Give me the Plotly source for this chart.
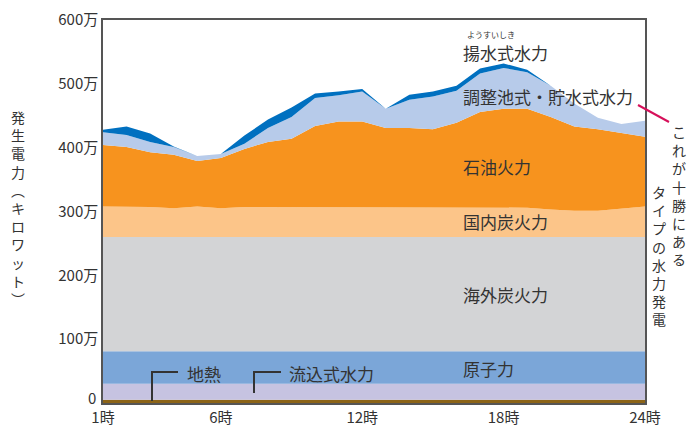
import plotly.graph_objects as go

hours = list(range(1, 25))
x_tick_vals = [1, 6, 12, 18, 24]
x_tick_text = ["1時", "6時", "12時", "18時", "24時"]
y_tick_vals = [0, 100, 200, 300, 400, 500, 600]
y_tick_text = ["", "100万", "200万", "300万", "400万", "500万", "600万"]
zero_label = "0"

# 発電量（万キロワット）— bottom to top
geothermal     = [5, 5, 5, 5, 5, 5, 5, 5, 5, 5, 5, 5, 5, 5, 5, 5, 5, 5, 5, 5, 5, 5, 5, 5]
run_of_river   = [25, 25, 25, 25, 25, 25, 25, 25, 25, 25, 25, 25, 25, 25, 25, 25, 25, 25, 25, 25, 25, 25, 25, 25]
nuclear        = [51, 51, 51, 51, 51, 51, 51, 51, 51, 51, 51, 51, 51, 51, 51, 51, 51, 51, 51, 51, 51, 51, 51, 51]
imported_coal  = [179, 179, 179, 179, 179, 179, 179, 179, 179, 179, 179, 179, 179, 179, 179, 179, 179, 179, 179, 179, 179, 179, 179, 179]
domestic_coal  = [48, 48, 47, 45, 48, 45, 47, 47, 47, 47, 47, 47, 47, 47, 47, 47, 47, 47, 46, 43, 41, 41, 44, 48]
oil            = [96, 93, 86, 84, 71, 79, 91, 102, 107, 127, 134, 134, 124, 124, 122, 132, 149, 154, 155, 145, 132, 128, 119, 109]
reservoir      = [20, 19, 16, 12, 8, 6, 8, 22, 34, 44, 41, 47, 30, 44, 51, 50, 60, 64, 57, 49, 36, 18, 14, 25]
pumped         = [4, 13, 13, 1, 0, 0, 13, 13, 15, 7, 6, 4, 0, 8, 8, 8, 8, 7, 4, 0, 0, 0, 0, 0]

series = [
    ("地熱", geothermal, "#8C6418"),
    ("流込式水力", run_of_river, "#C6C3E1"),
    ("原子力", nuclear, "#7BA6D8"),
    ("海外炭火力", imported_coal, "#D3D4D6"),
    ("国内炭火力", domestic_coal, "#FCC589"),
    ("石油火力", oil, "#F7931E"),
    ("調整池式・貯水式水力", reservoir, "#B7CBEA"),
    ("揚水式水力", pumped, "#0070C0"),
]

fig = go.Figure()
for name, vals, col in series:
    fig.add_trace(go.Scatter(
        x=hours, y=vals, name=name, mode="lines", stackgroup="one",
        line=dict(width=0, color=col), fillcolor=col, hoverinfo="skip",
    ))

W, H = 688, 427
L, R, T, B = 103, 43, 20, 24
PW, PH = W - L - R, H - T - B

def px(x):
    return (x - L) / PW

def py(y):
    return (H - B - y) / PH

JP = "Noto Sans CJK JP, Noto Sans, sans-serif"
NUM = "Liberation Sans Narrow, " + JP
TXT = "#333333"
annotations = []

def label(text, x, y, size=17, anchor="left", family=JP, valign="middle"):
    annotations.append(dict(
        text=text, x=px(x), y=py(y), xref="paper", yref="paper",
        xanchor=anchor, yanchor=valign, showarrow=False,
        font=dict(family=family, size=size, color=TXT),
    ))

label(zero_label, 98, 397, size=15, anchor="right", family=NUM)
label("ようすいしき", 491, 35, size=8, anchor="center")
label("揚水式水力", 461, 53)
label("調整池式・貯水式水力", 461, 96)
label("石油火力", 461, 166)
label("国内炭火力", 461, 221)
label("海外炭火力", 461, 295)
label("原子力", 461, 368)
label("地熱", 185, 373)
label("流込式水力", 287, 373)

def vertical(text, x, ytop, size):
    annotations.append(dict(
        text="<br>".join(text), x=px(x), y=py(ytop), xref="paper", yref="paper",
        xanchor="center", yanchor="top", align="center", showarrow=False,
        borderpad=0,
        font=dict(family=JP, size=size, color=TXT),
    ))

vertical("発生電力︵キロワット︶", 18, 106, 14)
vertical("これが十勝にある", 679, 121, 14)
vertical("タイプの水力発電", 659, 181, 14)

shapes = []

def seg(x0, y0, x1, y1, color="#333333", width=2):
    shapes.append(dict(type="line", xref="paper", yref="paper",
                       x0=px(x0), y0=py(y0), x1=px(x1), y1=py(y1),
                       line=dict(color=color, width=width)))

seg(152, 401, 152, 372)
seg(151, 372, 178, 372)
seg(254, 393, 254, 372)
seg(253, 372, 281, 372)
seg(638, 105, 669, 122, color="#D6105A", width=2)

fig.update_layout(
    width=W, height=H,
    margin=dict(l=L, r=R, t=T, b=B, pad=0),
    paper_bgcolor="white", plot_bgcolor="white",
    showlegend=False,
    annotations=annotations,
    shapes=shapes,
    font=dict(family=JP, color=TXT),
)
fig.update_xaxes(
    range=[1, 24], tickvals=x_tick_vals, ticktext=x_tick_text,
    showgrid=False, zeroline=False, showline=True, mirror=True,
    linecolor="#555555", linewidth=1.5, ticks="", ticklen=0,
    automargin=False,
    tickfont=dict(family=NUM, size=15, color=TXT),
)
fig.update_yaxes(
    range=[0, 600], tickvals=y_tick_vals, ticktext=y_tick_text,
    showgrid=False, zeroline=False, showline=True, mirror=True,
    linecolor="#555555", linewidth=1.5, ticks="", ticklen=0,
    automargin=False,
    tickfont=dict(family=NUM, size=15, color=TXT),
)

fig.write_html("out.html")
